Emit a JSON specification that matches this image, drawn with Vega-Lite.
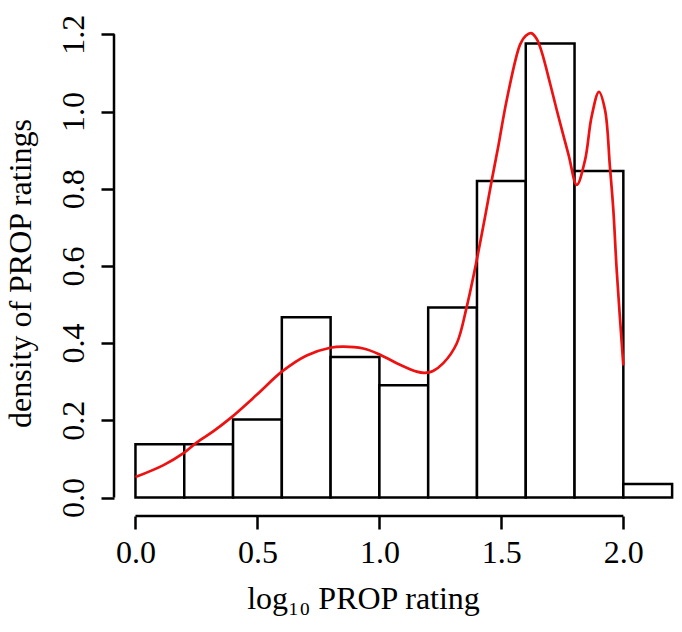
{
  "$schema": "https://vega.github.io/schema/vega-lite/v6.json",
  "autosize": {"type": "none"},
  "padding": {"left": 114, "top": 0, "right": 0, "bottom": 116},
  "width": 568,
  "height": 516,
  "background": "white",
  "config": {"view": {"stroke": null}},
  "datasets": {
    "bins": [
      {"bin_start": 0.0, "bin_end": 0.2, "density": 0.138},
      {"bin_start": 0.2, "bin_end": 0.4, "density": 0.138},
      {"bin_start": 0.4, "bin_end": 0.6, "density": 0.202},
      {"bin_start": 0.6, "bin_end": 0.8, "density": 0.467},
      {"bin_start": 0.8, "bin_end": 1.0, "density": 0.364},
      {"bin_start": 1.0, "bin_end": 1.2, "density": 0.291},
      {"bin_start": 1.2, "bin_end": 1.4, "density": 0.4925},
      {"bin_start": 1.4, "bin_end": 1.6, "density": 0.820},
      {"bin_start": 1.6, "bin_end": 1.8, "density": 1.176},
      {"bin_start": 1.8, "bin_end": 2.0, "density": 0.846},
      {"bin_start": 2.0, "bin_end": 2.2, "density": 0.035}
    ],
    "kde": [
      {"x": 0.000, "y": 0.053},
      {"x": 0.115, "y": 0.084},
      {"x": 0.197, "y": 0.115},
      {"x": 0.252, "y": 0.143},
      {"x": 0.320, "y": 0.172},
      {"x": 0.388, "y": 0.205},
      {"x": 0.497, "y": 0.266},
      {"x": 0.600, "y": 0.326},
      {"x": 0.702, "y": 0.368},
      {"x": 0.798, "y": 0.388},
      {"x": 0.852, "y": 0.391},
      {"x": 0.934, "y": 0.386},
      {"x": 0.996, "y": 0.372},
      {"x": 1.071, "y": 0.348},
      {"x": 1.153, "y": 0.326},
      {"x": 1.187, "y": 0.323},
      {"x": 1.220, "y": 0.328},
      {"x": 1.262, "y": 0.348},
      {"x": 1.317, "y": 0.399},
      {"x": 1.358, "y": 0.494},
      {"x": 1.399, "y": 0.615},
      {"x": 1.433, "y": 0.727},
      {"x": 1.461, "y": 0.823},
      {"x": 1.488, "y": 0.912},
      {"x": 1.522, "y": 1.030},
      {"x": 1.577, "y": 1.174},
      {"x": 1.600, "y": 1.196},
      {"x": 1.622, "y": 1.203},
      {"x": 1.645, "y": 1.188},
      {"x": 1.665, "y": 1.155},
      {"x": 1.700, "y": 1.072},
      {"x": 1.727, "y": 1.004},
      {"x": 1.775, "y": 0.889},
      {"x": 1.809, "y": 0.810},
      {"x": 1.843, "y": 0.874},
      {"x": 1.870, "y": 0.987},
      {"x": 1.900, "y": 1.051},
      {"x": 1.925, "y": 1.004},
      {"x": 1.945, "y": 0.857},
      {"x": 1.959, "y": 0.745},
      {"x": 1.973, "y": 0.587},
      {"x": 2.000, "y": 0.342}
    ]
  },
  "layer": [
    {
      "data": {"name": "bins"},
      "mark": {"type": "bar", "fill": "white", "stroke": "black", "strokeWidth": 2.5},
      "encoding": {
        "x": {
          "field": "bin_start", "type": "quantitative",
          "scale": {"domain": [-0.088, 2.2405], "nice": false, "zero": false},
          "axis": {
            "values": [0, 0.5, 1, 1.5, 2],
            "format": ".1f",
            "domain": false,
            "grid": false,
            "tickSize": 13,
            "tickWidth": 2.5,
            "tickColor": "black",
            "labelFont": "Liberation Serif",
            "labelFontSize": 32,
            "labelColor": "black",
            "labelBaseline": "alphabetic",
            "labelPadding": 33,
            "labelFlush": false,
            "labelOverlap": false,
            "title": "log₁₀ PROP rating",
            "titleFont": "Liberation Serif",
            "titleFontSize": 32,
            "titleFontWeight": "normal",
            "titleColor": "black",
            "titleBaseline": "alphabetic",
            "titleAlign": "center",
            "titleX": 249,
            "titleY": 92
          }
        },
        "x2": {"field": "bin_end"},
        "y": {
          "field": "density", "type": "quantitative",
          "scale": {"domain": [-0.0479, 1.2889], "nice": false, "zero": false},
          "axis": {
            "values": [0, 0.2, 0.4, 0.6, 0.8, 1.0, 1.2],
            "format": ".1f",
            "domain": false,
            "grid": false,
            "tickSize": 13,
            "tickWidth": 2.5,
            "tickColor": "black",
            "labelFont": "Liberation Serif",
            "labelFontSize": 32,
            "labelColor": "black",
            "labelAngle": -90,
            "labelAlign": "center",
            "labelBaseline": "alphabetic",
            "labelPadding": 18,
            "labelFlush": false,
            "labelOverlap": false,
            "title": "density of PROP ratings",
            "titleFont": "Liberation Serif",
            "titleFontSize": 32,
            "titleFontWeight": "normal",
            "titleColor": "black",
            "titleAngle": -90,
            "titleBaseline": "alphabetic",
            "titleAlign": "center",
            "titleX": -84,
            "titleY": 273
          }
        },
        "y2": {"datum": 0}
      }
    },
    {
      "data": {"name": "kde"},
      "mark": {"type": "line", "color": "#ee1111", "strokeWidth": 2.7, "interpolate": "catmull-rom"},
      "encoding": {
        "x": {"field": "x", "type": "quantitative"},
        "y": {"field": "y", "type": "quantitative"}
      }
    },
    {
      "data": {"values": [{}]},
      "mark": {"type": "rule", "color": "black", "strokeWidth": 2.5},
      "encoding": {
        "x": {"datum": 0},
        "x2": {"datum": 2},
        "y": {"datum": -0.0479}
      }
    },
    {
      "data": {"values": [{}]},
      "mark": {"type": "rule", "color": "black", "strokeWidth": 2.5},
      "encoding": {
        "y": {"datum": 0},
        "y2": {"datum": 1.2},
        "x": {"datum": -0.088}
      }
    }
  ]
}
